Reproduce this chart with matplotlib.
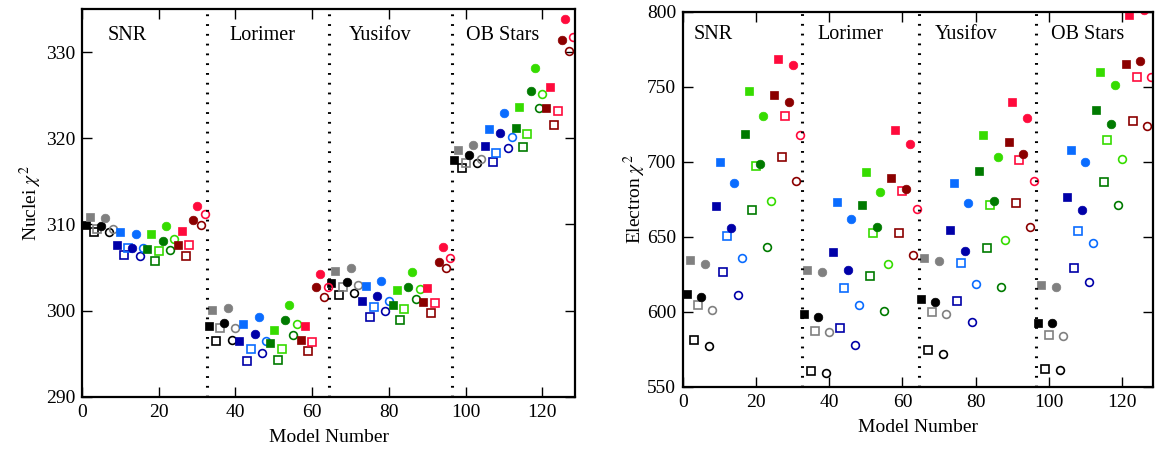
import numpy as np
import matplotlib
matplotlib.use('Agg')
import matplotlib.pyplot as plt
import matplotlib.transforms as mtransforms

plt.rcParams['font.family'] = ['Liberation Serif', 'DejaVu Serif']
plt.rcParams['mathtext.fontset'] = 'stix'

# --- data: chi^2 per model (4 source models x 32 propagation setups) ---
sections = ['SNR', 'Lorimer', 'Yusifov', 'OB Stars']

nuclei_snr = [309.95, 310.85, 309.1, 309.5, 309.8, 310.7, 309.1, 309.5,
              307.6, 309.1, 306.5, 307.3, 307.3, 308.9, 306.4, 307.3,
              307.1, 308.9, 305.8, 306.9, 308.1, 309.8, 307.0, 308.3,
              307.6, 309.25, 306.4, 307.6, 310.5, 312.2, 309.9, 311.2]
nuclei_lorimer = [298.2, 300.1, 296.5, 298.0, 298.6, 300.3, 296.6, 298.0,
                  296.5, 298.4, 294.2, 295.5, 297.3, 299.3, 295.1, 296.5,
                  296.2, 297.8, 294.3, 295.5, 298.9, 300.7, 297.2, 298.5,
                  296.6, 298.2, 295.3, 296.4, 302.7, 304.2, 301.6, 302.7]
nuclei_yusifov = [303.2, 304.6, 301.8, 302.8, 303.3, 304.95, 302.0, 303.0,
                  301.1, 302.9, 299.25, 300.4, 301.7, 303.4, 299.95, 301.1,
                  300.7, 302.4, 298.9, 300.2, 302.7, 304.5, 301.3, 302.5,
                  301.0, 302.6, 299.7, 300.9, 305.7, 307.4, 304.9, 306.1]
nuclei_ob = [317.5, 318.7, 316.5, 317.1, 318.1, 319.25, 317.1, 317.6,
             319.1, 321.1, 317.3, 318.3, 320.65, 322.9, 318.9, 320.1,
             321.25, 323.6, 319.0, 320.5, 325.5, 328.1, 323.5, 325.1,
             323.5, 325.9, 321.5, 323.2, 331.4, 333.9, 330.1, 331.8]

electron_snr = [612, 634.7, 581, 604.5, 610, 632, 577.5, 601,
                670.7, 700, 626.7, 650.7, 655.8, 685.8, 611.3, 635.6,
                718.7, 747.1, 668, 696.9, 698.7, 730.7, 643.1, 673.8,
                744.4, 768.7, 703.1, 730.7, 739.6, 764.7, 687.3, 718.2]
electron_lorimer = [598.4, 628, 560.7, 587.6, 596.9, 626.7, 559.6, 586.7,
                    639.8, 673.1, 589.6, 616, 628.2, 662, 578.2, 604.9,
                    670.9, 692.9, 623.8, 652.4, 656.9, 679.8, 600.4, 631.6,
                    689.3, 721.3, 652.7, 680.7, 682, 711.8, 638, 668.5]
electron_yusifov = [608.7, 636, 574.7, 600, 606.9, 634, 572.2, 598.4,
                    654.7, 686, 607.6, 632.4, 640.7, 672.4, 593.6, 618.7,
                    694, 718, 642.4, 671.3, 673.6, 703.1, 616.9, 648,
                    713.3, 739.6, 672.7, 700.9, 705.3, 729.3, 656.5, 687.3]
electron_ob = [592.9, 617.6, 562, 584.4, 592.4, 616.9, 561.3, 584,
               676.4, 708, 629.3, 654.2, 668, 700.2, 620.2, 645.8,
               734.4, 759.6, 686.7, 714.7, 724.9, 750.9, 671.3, 702.2,
               765.3, 798, 726.9, 756.5, 766.9, 801, 723.6, 756.2]

# --- styles ---
# pairs (dark, light) for each block of 8 models
color_pairs = [('#000000', '#808080'),
               ('#0000a8', '#0a6cff'),
               ('#007a00', '#36dc00'),
               ('#8b0000', '#ff0a3c')]
# position in block of 8 -> (shade, filled, marker)
block_style = [(0, True, 's'), (1, True, 's'), (0, False, 's'), (1, False, 's'),
               (0, True, 'o'), (1, True, 'o'), (0, False, 'o'), (1, False, 'o')]

nuclei = np.array(nuclei_snr + nuclei_lorimer + nuclei_yusifov + nuclei_ob)
electron = np.array(electron_snr + electron_lorimer + electron_yusifov + electron_ob)
model = np.arange(1, len(nuclei) + 1)


def draw_panel(ax, values, ylim, yticks, ylabel, label_x, label_y, ylabelpad, xlabelpad):
    idx = model - 1
    for g in range(4):
        for p, (shade, filled, mk) in enumerate(block_style):
            sel = (idx % 32) // 8 == g
            sel &= (idx % 8) == p
            col = color_pairs[g][shade]
            if filled:
                ax.plot(model[sel], values[sel], linestyle='none', marker=mk,
                        markersize=6.2, color=col, markeredgewidth=0.5)
            else:
                ax.plot(model[sel], values[sel], linestyle='none', marker=mk,
                        markersize=5.6, markerfacecolor='none',
                        markeredgecolor=col, markeredgewidth=1.2)
    for xb in [32.5, 64.5, 96.5]:
        ax.axvline(xb, color='black', linewidth=2.2, linestyle=(0, (0.6, 2.6)))
    trans = mtransforms.blended_transform_factory(ax.transData, ax.transAxes)
    for name, lx in zip(sections, label_x):
        ax.text(lx, label_y, name, transform=trans, ha='left', va='center', fontsize=14.5)
    ax.set_xlim(0, 128.5)
    ax.set_ylim(*ylim)
    ax.set_xticks(np.arange(0, 121, 20))
    ax.set_yticks(yticks)
    ax.tick_params(direction='in', length=7, width=1, top=True, right=True,
                   labelsize=14, pad=5)
    for s in ax.spines.values():
        s.set_linewidth(1.6)
    ax.set_xlabel('Model Number', fontsize=14, labelpad=xlabelpad)
    ax.set_ylabel(ylabel, fontsize=14, labelpad=ylabelpad)


fig = plt.figure(figsize=(11.59, 4.51), dpi=100)
ax1 = fig.add_axes([0.0708, 0.120, 0.4253, 0.860])
ax2 = fig.add_axes([0.5893, 0.142, 0.4055, 0.832])

draw_panel(ax1, nuclei, (290, 335), np.arange(290, 331, 10), r'Nuclei $\chi^2$',
           [6.6, 38.4, 69.4, 100.0], 0.933, 1, 6)
draw_panel(ax2, electron, (550, 800), np.arange(550, 801, 50), r'Electron $\chi^2$',
           [3.0, 36.7, 68.8, 100.7], 0.94, -1, 6)

fig.savefig('out.png', dpi=100)
